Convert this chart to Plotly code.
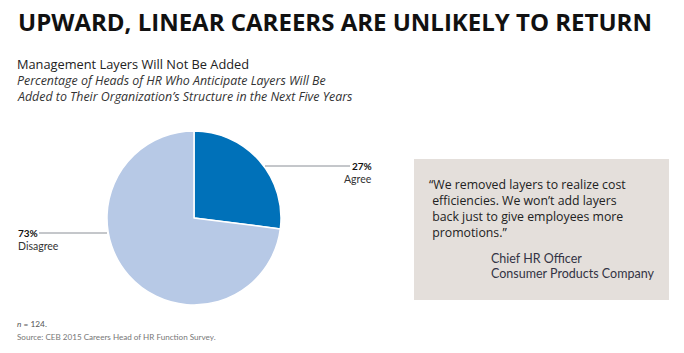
import plotly.graph_objects as go

labels = ["Agree", "Disagree"]
values = [27, 73]
colors = ["#0071B9", "#B7C9E6"]

W, H = 684, 353

def px(x):
    return x / W

def py(y):
    return 1 - y / H

fig = go.Figure()
fig.add_trace(go.Pie(
    labels=labels, values=values, sort=False, direction="clockwise", rotation=0,
    marker=dict(colors=colors, line=dict(color="white", width=1.5)),
    textinfo="none", hoverinfo="label+percent", showlegend=False,
    domain=dict(x=[px(107), px(281)], y=[py(305), py(131)]),
))

font_main = "Lato, 'Open Sans', sans-serif"
font_os = "'Open Sans', Lato, sans-serif"
ann = []
ann.append(dict(x=px(16), y=py(22), text="<b>UPWARD, LINEAR CAREERS ARE UNLIKELY TO RETURN</b>",
                xanchor="left", yanchor="middle", font=dict(size=24, color="#111111", family=font_os)))
ann.append(dict(x=px(15), y=py(64), text="Management Layers Will Not Be Added",
                xanchor="left", yanchor="middle", font=dict(size=12.8, color="#222222", family=font_os)))
ann.append(dict(x=px(15), y=py(81), text="<i>Percentage of Heads of HR Who Anticipate Layers Will Be</i>",
                xanchor="left", yanchor="middle", font=dict(size=12.4, color="#333333", family=font_os)))
ann.append(dict(x=px(15), y=py(96.5), text="<i>Added to Their Organization’s Structure in the Next Five Years</i>",
                xanchor="left", yanchor="middle", font=dict(size=12.4, color="#333333", family=font_os)))

# slice labels
ann.append(dict(x=px(374), y=py(166), text=f"<b>{values[0]}%</b>", xanchor="right", yanchor="middle",
                font=dict(size=10, color="#111111", family=font_main)))
ann.append(dict(x=px(374), y=py(179), text=labels[0], xanchor="right", yanchor="middle",
                font=dict(size=10.5, color="#333333", family=font_main)))
ann.append(dict(x=px(16), y=py(233), text=f"<b>{values[1]}%</b>", xanchor="left", yanchor="middle",
                font=dict(size=10, color="#111111", family=font_main)))
ann.append(dict(x=px(16), y=py(246), text=labels[1], xanchor="left", yanchor="middle",
                font=dict(size=10.5, color="#333333", family=font_main)))

# quote
quote_text = ("“We removed layers to realize cost<br> efficiencies. We won’t add layers"
              "<br> back just to give employees more<br> promotions.”")
ann.append(dict(x=px(427), y=py(174), text=quote_text, xanchor="left", yanchor="top", align="left",
                font=dict(size=12.3, color="#222222", family=font_os)))
ann.append(dict(x=px(489), y=py(258), text="Chief HR Officer", xanchor="left", yanchor="middle",
                font=dict(size=12.5, color="#333344", family=font_main)))
ann.append(dict(x=px(489), y=py(273), text="Consumer Products Company", xanchor="left", yanchor="middle",
                font=dict(size=12.5, color="#333344", family=font_main)))

# footer
ann.append(dict(x=px(15), y=py(324), text="<i>n</i> = 124.", xanchor="left", yanchor="middle",
                font=dict(size=8.3, color="#555555", family=font_main)))
ann.append(dict(x=px(15), y=py(337), text="Source: CEB 2015 Careers Head of HR Function Survey.", xanchor="left",
                yanchor="middle", font=dict(size=8.1, color="#777777", family=font_main)))

for a in ann:
    a.update(xref="paper", yref="paper", showarrow=False)

shapes = [
    dict(type="rect", xref="paper", yref="paper", x0=px(414), x1=px(669), y0=py(300), y1=py(159),
         fillcolor="#E4DFDB", line=dict(width=0), layer="below"),
    dict(type="line", xref="paper", yref="paper", x0=px(265), x1=px(350), y0=py(166), y1=py(166),
         line=dict(color="#8A8F96", width=1)),
    dict(type="line", xref="paper", yref="paper", x0=px(39), x1=px(107), y0=py(233), y1=py(233),
         line=dict(color="#8A8F96", width=1)),
]

fig.update_layout(width=W, height=H, margin=dict(l=0, r=0, t=0, b=0),
                  paper_bgcolor="white", plot_bgcolor="white",
                  annotations=ann, shapes=shapes)
fig.write_html("out.html")
